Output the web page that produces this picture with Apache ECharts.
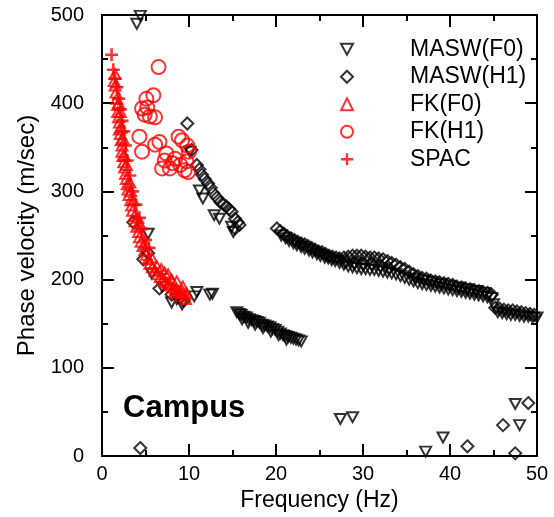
<!DOCTYPE html>
<html>
<head>
<meta charset="utf-8">
<script src="https://cdn.jsdelivr.net/npm/echarts@6/dist/echarts.min.js"></script>
<style>
  html, body { margin: 0; padding: 0; background: #fff; }
  #chart { width: 554px; height: 517px; }
</style>
</head>
<body>
<div id="chart"></div>
<script>
  // frequency (Hz), phase velocity (m/sec)
  var xTicks = [0, 10, 20, 30, 40, 50];
  var yTicks = [0, 100, 200, 300, 400, 500];

  var maswF0 = [
    [4.0, 490], [4.4, 499],
    [5.3, 252], [5.7, 207], [6.9, 192], [8.0, 174], [8.6, 178], [9.2, 172],
    [10.6, 181], [10.9, 186], [12.4, 183], [12.7, 184],
    [10.1, 345], [11.2, 301], [11.6, 292], [12.9, 273], [13.5, 269], [14.9, 260], [15.1, 254],
    [15.5, 163], [15.8, 161], [16.0, 160], [16.3, 158], [16.6, 157], [16.9, 155], [17.2, 154],
    [17.5, 153], [17.8, 152], [18.1, 151], [18.4, 149], [18.7, 148], [19.0, 147], [19.3, 146],
    [19.6, 144], [19.9, 143], [20.2, 141], [20.5, 139], [20.8, 137], [21.1, 136], [21.4, 135],
    [21.7, 134], [22.0, 133], [22.3, 132], [22.6, 131], [22.9, 130],
    [16.8, 151], [17.6, 149], [18.5, 145], [19.4, 141], [20.3, 137], [21.2, 132], [16.1, 155],
    [20.6, 250], [21.1, 247], [21.5, 244], [22.0, 241], [22.4, 239], [22.9, 237], [23.3, 235],
    [23.8, 233], [24.2, 231], [24.7, 229], [25.1, 227], [25.6, 225], [26.0, 224], [26.4, 222],
    [26.8, 221],
    [27.3, 219], [27.8, 217], [28.3, 215], [28.8, 214], [29.3, 213], [29.8, 212], [30.3, 212],
    [30.8, 211], [31.3, 211], [31.8, 210], [32.3, 209], [32.8, 208], [33.3, 207], [33.8, 206],
    [34.3, 204], [34.8, 202], [35.3, 200], [35.8, 198], [36.3, 196], [36.8, 195], [37.3, 194],
    [37.8, 193], [38.3, 192], [38.8, 191], [39.3, 190], [39.8, 189], [40.3, 188], [40.8, 187],
    [41.3, 186], [41.8, 185], [42.3, 184], [42.8, 183], [43.3, 182], [43.8, 181], [44.3, 180],
    [44.8, 179],
    [36.0, 201], [37.0, 199], [38.0, 197], [39.0, 195], [40.0, 193], [41.0, 191], [42.0, 189],
    [43.0, 187], [44.0, 185],
    [45.0, 172], [45.5, 163], [46.0, 162], [46.5, 161], [47.0, 160], [47.5, 160],
    [48.0, 159], [48.5, 158], [49.0, 158], [49.5, 157], [50.0, 157],
    [27.4, 42], [28.8, 44], [37.2, 5], [39.2, 21], [47.5, 59], [48.0, 35]
  ];

  var maswH1 = [
    [3.6, 265], [4.75, 223], [5.3, 230], [6.6, 190], [8.0, 183], [9.0, 179], [9.4, 176],
    [9.8, 377], [10.3, 347], [10.9, 330], [11.2, 325], [11.5, 319], [11.8, 314], [12.2, 309],
    [12.5, 304], [12.8, 298], [13.2, 293], [13.6, 288], [14.0, 285], [14.3, 283], [14.6, 280],
    [14.9, 277], [15.3, 269], [15.6, 265], [15.8, 262], [15.3, 258],
    [20.1, 258], [20.5, 255], [20.9, 252], [21.3, 249], [21.7, 247], [22.1, 245], [22.5, 243],
    [22.9, 241], [23.3, 240], [23.7, 238], [24.1, 236], [24.5, 234], [24.9, 232], [25.3, 231],
    [25.7, 229], [26.1, 227], [26.5, 226], [26.9, 225], [27.3, 224], [27.8, 225], [28.3, 226],
    [28.8, 227], [29.3, 227], [29.8, 227], [30.3, 226], [30.8, 225], [31.3, 225], [31.8, 224],
    [32.3, 223], [32.8, 221], [33.3, 219], [33.8, 217], [34.3, 214], [34.8, 212], [35.3, 209],
    [35.8, 206], [36.3, 204], [36.8, 202], [37.3, 201], [37.8, 199], [38.3, 198], [38.8, 197],
    [39.3, 196], [39.8, 195], [40.3, 194], [40.8, 192], [41.3, 191], [41.8, 190], [42.3, 189],
    [42.8, 188], [43.3, 187], [43.8, 186], [44.3, 185], [44.8, 183],
    [28.0, 220], [29.0, 219], [30.0, 218], [31.0, 218], [32.0, 216], [33.0, 213],
    [45.2, 168], [45.7, 167], [46.2, 166], [46.7, 165], [47.2, 165], [47.7, 164], [48.2, 163],
    [48.7, 162], [49.2, 161], [49.7, 160],
    [4.4, 9], [42.0, 11], [46.1, 35], [49.0, 60], [47.5, 3]
  ];

  var fkF0 = [
    [1.4, 425], [1.5, 433], [1.5, 420], [1.6, 412], [1.7, 405], [1.8, 398], [1.8, 390], [1.9, 384],
    [1.9, 400], [2.0, 378], [2.0, 370], [2.1, 365], [2.1, 390], [2.2, 358], [2.2, 372], [2.3, 352],
    [2.3, 345], [2.4, 340], [2.5, 333], [2.6, 327], [2.6, 340], [2.7, 320], [2.8, 314], [2.9, 308],
    [3.0, 302], [3.1, 296], [3.3, 290], [3.3, 300], [3.4, 284], [3.5, 278], [3.7, 272], [3.8, 266],
    [4.0, 260], [4.1, 270], [4.2, 254], [4.3, 248], [4.5, 243], [4.7, 238], [4.9, 233], [5.1, 228],
    [5.3, 223], [5.5, 218], [5.8, 214], [6.1, 210], [6.4, 206], [6.7, 203], [6.8, 212], [7.0, 200],
    [7.3, 197], [7.6, 195], [7.6, 206], [7.9, 193], [8.2, 191], [8.3, 185], [8.5, 189], [8.6, 198],
    [8.8, 187], [9.0, 181], [9.1, 186], [9.4, 185], [9.7, 184],
    [2.4, 360], [2.8, 330], [3.2, 310], [3.6, 290], [4.4, 262], [5.0, 240], [5.7, 225], [6.3, 215],
    [7.2, 208], [8.0, 200], [9.3, 192], [9.6, 178]
  ];

  var fkH1 = [
    [6.5, 441], [5.1, 405], [5.9, 409], [4.6, 394], [4.9, 387], [5.5, 385], [6.1, 384], [5.2, 395],
    [4.3, 362], [4.6, 345], [6.1, 353], [6.6, 356], [8.8, 362], [9.2, 358], [7.4, 343],
    [6.9, 326], [7.8, 326], [8.4, 337], [9.0, 330], [9.7, 334], [9.9, 322], [9.5, 324],
    [10.0, 345], [9.8, 352], [8.1, 332], [7.2, 335]
  ];

  var spac = [
    [1.1, 455], [1.3, 438], [1.5, 428], [1.7, 418], [1.9, 405], [2.1, 393], [2.3, 380], [2.5, 368],
    [2.7, 352], [2.9, 335], [3.2, 318], [3.5, 300], [3.9, 285], [4.3, 270], [4.6, 258], [5.0, 245],
    [5.4, 236]
  ];

  var FONT = '"Liberation Sans", Arial, sans-serif';
  var crossPath = 'path://M4,0h2v4h4v2h-4v4h-2v-4h-4v-2h4z';
  var downTriPath = 'path://M0,0L11,0L5.5,10Z';

  function openMark(color, width) {
    return { color: 'rgba(255,255,255,0)', borderColor: color, borderWidth: width };
  }

  var frameX = {
    min: 0, max: 50, interval: 10,
    axisLine: { show: true, onZero: false, lineStyle: { color: '#000', width: 2 } },
    axisTick: { show: true, inside: true, length: 12, lineStyle: { color: '#000', width: 2 } },
    minorTick: { show: true, splitNumber: 2, length: 6, lineStyle: { color: '#000', width: 2 } },
    splitLine: { show: false }
  };
  var frameY = {
    min: 0, max: 500, interval: 100,
    axisLine: { show: true, onZero: false, lineStyle: { color: '#000', width: 2 } },
    axisTick: { show: true, inside: true, length: 12, lineStyle: { color: '#000', width: 2 } },
    minorTick: { show: true, splitNumber: 2, length: 6, lineStyle: { color: '#000', width: 2 } },
    splitLine: { show: false }
  };

  var myChart = echarts.init(document.getElementById('chart'));
  myChart.setOption({
    backgroundColor: '#fff',
    animation: false,
    grid: { left: 102, right: 17, top: 15, bottom: 61 },
    legend: {
      orient: 'vertical',
      left: 340,
      top: 37,
      padding: 0,
      itemWidth: 12,
      itemHeight: 12,
      itemGap: 3,
      textStyle: { fontFamily: FONT, fontSize: 23, color: '#000', lineHeight: 24.5, padding: [0, 0, 0, 52] },
      data: [
        { name: 'MASW(F0)', icon: downTriPath },
        { name: 'MASW(H1)', icon: 'diamond' },
        { name: 'FK(F0)', icon: 'triangle' },
        { name: 'FK(H1)', icon: 'circle' },
        { name: 'SPAC', icon: crossPath }
      ]
    },
    graphic: [{
      type: 'text',
      left: 123,
      top: 393,
      style: { text: 'Campus', font: 'bold 31px ' + FONT, fill: '#000' }
    }],
    xAxis: [
      Object.assign({}, frameX, {
        type: 'value', position: 'bottom',
        name: 'Frequency (Hz)', nameLocation: 'middle', nameGap: 31,
        nameTextStyle: { fontFamily: FONT, fontSize: 23, color: '#000' },
        axisLabel: {
          margin: 8, fontFamily: FONT, fontSize: 20, color: '#000',
          customValues: xTicks
        }
      }),
      Object.assign({}, frameX, { type: 'value', position: 'top', axisLabel: { show: false } })
    ],
    yAxis: [
      Object.assign({}, frameY, {
        type: 'value', position: 'left',
        name: 'Phase velocity (m/sec)', nameLocation: 'middle', nameGap: 62,
        nameTextStyle: { fontFamily: FONT, fontSize: 24, color: '#000' },
        axisLabel: {
          margin: 18, fontFamily: FONT, fontSize: 20, color: '#000',
          customValues: yTicks
        }
      }),
      Object.assign({}, frameY, { type: 'value', position: 'right', axisLabel: { show: false } })
    ],
    series: [
      {
        name: 'MASW(F0)', type: 'scatter', symbol: 'triangle', symbolRotate: 180, symbolSize: [11, 10],
        itemStyle: openMark('#000', 2), data: maswF0
      },
      {
        name: 'MASW(H1)', type: 'scatter', symbol: 'diamond', symbolSize: 12,
        itemStyle: openMark('#000', 2), data: maswH1
      },
      {
        name: 'FK(F0)', type: 'scatter', symbol: 'triangle', symbolSize: [11, 10],
        itemStyle: openMark('#ff0000', 2), data: fkF0
      },
      {
        name: 'FK(H1)', type: 'scatter', symbol: 'circle', symbolSize: 14,
        itemStyle: openMark('#ff0000', 2), data: fkH1
      },
      {
        name: 'SPAC', type: 'scatter', symbol: crossPath, symbolSize: 13,
        itemStyle: { color: '#ff0000' }, data: spac
      }
    ]
  });
  window.addEventListener('resize', function () { myChart.resize(); });
</script>
</body>
</html>
